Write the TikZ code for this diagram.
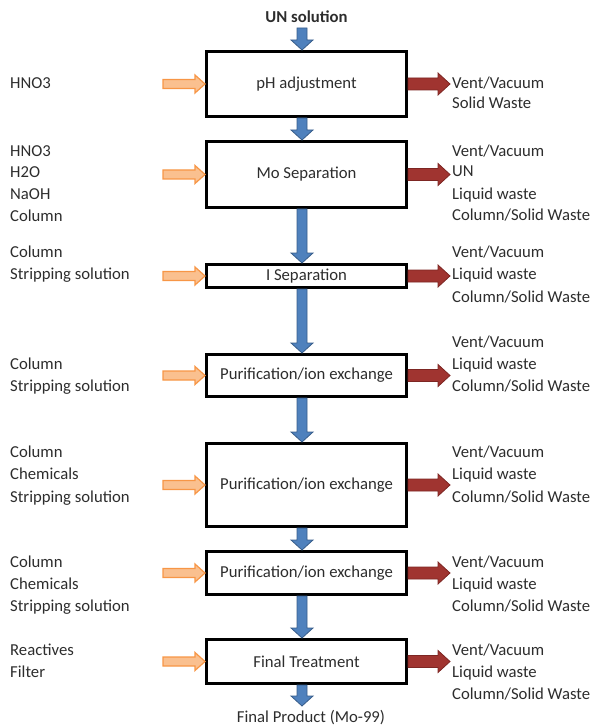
\documentclass[tikz,border=0pt]{standalone}
\usepackage{fontspec}
\setmainfont{Carlito}
\usetikzlibrary{calc}
\definecolor{bfill}{RGB}{79,129,189}
\definecolor{bline}{RGB}{56,93,138}
\definecolor{ofill}{RGB}{250,192,143}
\definecolor{oline}{RGB}{247,150,70}
\definecolor{rfill}{RGB}{160,52,48}
\definecolor{rline}{RGB}{125,38,35}
\definecolor{txt}{RGB}{45,45,45}
\newcommand{\vblock}[6]{% style, from, to, shaft half, head half, head length
  \path[#1] let \p1=(#2), \p2=(#3) in
    (\x1-#4,\y1) -- (\x1-#4,\y2+#6) -- (\x1-#5,\y2+#6) -- (\x1,\y2) --
    (\x1+#5,\y2+#6) -- (\x1+#4,\y2+#6) -- (\x1+#4,\y1) -- cycle;}
\newcommand{\hblock}[6]{% style, from, to, shaft half, head half, head length
  \path[#1] let \p1=(#2), \p2=(#3) in
    (\x1,\y1-#4) -- (\x2-#6,\y1-#4) -- (\x2-#6,\y1-#5) -- (\x2,\y1) --
    (\x2-#6,\y1+#5) -- (\x2-#6,\y1+#4) -- (\x1,\y1+#4) -- cycle;}
\begin{document}
\begin{tikzpicture}[x=1pt,y=-1pt,
  box/.style={draw=black,line width=3pt,fill=white,minimum width=200pt,inner sep=0pt,
    font=\fontsize{16.7}{20}\selectfont,text=txt},
  lbl/.style={anchor=base west,inner sep=0pt,font=\fontsize{16.7}{20}\selectfont,text=txt},
  ttl/.style={inner sep=0pt,font=\fontsize{16.7}{20}\selectfont,text=txt},
  barrow/.style={fill=bfill,draw=bline,line width=0.8pt},
  oarrow/.style={fill=ofill,draw=oline,line width=1.2pt},
  rarrow/.style={fill=rfill,draw=rline,line width=0.8pt}]
\useasboundingbox (0,0) rectangle (593,727);
\coordinate (ax) at (302,0);
\coordinate (ol) at (163,0);
\coordinate (rr) at (450,0);

\node[ttl,font=\fontsize{16.7}{20}\selectfont\bfseries] (un) at (306.5,17) {UN solution};
\node[box,minimum height=65pt] (b1) at (306.5,84) {pH adjustment};
\node[box,minimum height=66pt] (b2) at (306.5,174.5) {Mo Separation};
\node[box,minimum height=23pt] (b3) at (306.5,276) {I Separation};
\node[box,minimum height=42pt] (b4) at (306.5,375.5) {Purification/ion exchange};
\node[box,minimum height=83pt] (b5) at (306.5,485) {Purification/ion exchange};
\node[box,minimum height=43pt] (b6) at (306.5,573) {Purification/ion exchange};
\node[box,minimum height=44pt] (b7) at (306.5,661.5) {Final Treatment};
\node[ttl] (fp) at (311,718) {Final Product (Mo-99)};

% vertical flow arrows
\coordinate (unb) at (302,28);
\vblock{barrow}{unb}{b1.north -| ax}{5pt}{11pt}{10pt}
\vblock{barrow}{b1.south -| ax}{b2.north -| ax}{5pt}{11pt}{10pt}
\vblock{barrow}{b2.south -| ax}{b3.north -| ax}{5pt}{11pt}{10pt}
\vblock{barrow}{b3.south -| ax}{b4.north -| ax}{5pt}{11pt}{10pt}
\vblock{barrow}{b4.south -| ax}{b5.north -| ax}{5pt}{11pt}{10pt}
\vblock{barrow}{b5.south -| ax}{b6.north -| ax}{5pt}{11pt}{10pt}
\vblock{barrow}{b6.south -| ax}{b7.north -| ax}{5pt}{11pt}{10pt}
\coordinate (fpt) at (302,706);
\vblock{barrow}{b7.south -| ax}{fpt}{5pt}{11pt}{10pt}

% side arrows
\foreach \b in {b1,b2,b3,b4,b5,b6,b7}{
  \hblock{oarrow}{\b.west -| ol}{\b.west}{4.5pt}{9pt}{10pt}
  \hblock{rarrow}{\b.east}{\b.east -| rr}{6pt}{11pt}{12pt}
}

% left labels
\foreach \y/\t [count=\i] in {84/HNO3,
  152/HNO3, 173/H2O, 195/NaOH, 217/Column,
  252/Column, 274/{Stripping solution},
  364/Column, 386/{Stripping solution},
  452/Column, 474/Chemicals, 497/{Stripping solution},
  562/Column, 584/Chemicals, 606/{Stripping solution},
  650/Reactives, 672/Filter}
  \node[lbl] (left\i) at (10,\y+5) {\t};

% right labels
\foreach \y/\t [count=\i] in {84/{Vent/Vacuum}, 104/{Solid Waste},
  152/{Vent/Vacuum}, 172/UN, 195/{Liquid waste}, 216/{Column/Solid Waste},
  252/{Vent/Vacuum}, 274/{Liquid waste}, 297/{Column/Solid Waste},
  342/{Vent/Vacuum}, 364/{Liquid waste}, 386/{Column/Solid Waste},
  452/{Vent/Vacuum}, 474/{Liquid waste}, 497/{Column/Solid Waste},
  562/{Vent/Vacuum}, 584/{Liquid waste}, 606/{Column/Solid Waste},
  650/{Vent/Vacuum}, 672/{Liquid waste}, 694/{Column/Solid Waste}}
  \node[lbl] (right\i) at (452,\y+5) {\t};
\end{tikzpicture}
\end{document}
